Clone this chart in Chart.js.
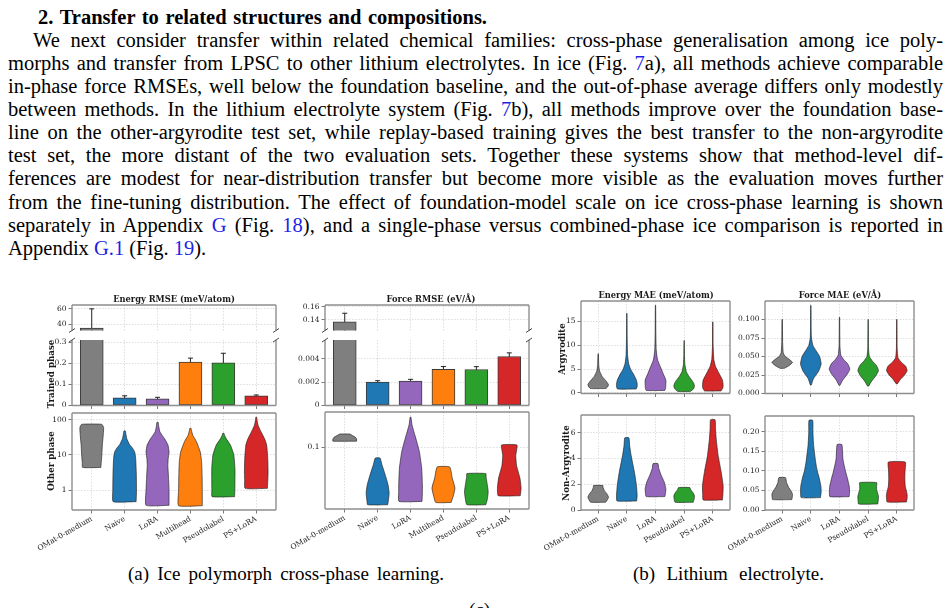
<!DOCTYPE html>
<html>
<head>
<meta charset="utf-8">
<script src="https://cdn.jsdelivr.net/npm/chart.js@4.4.1/dist/chart.umd.min.js"></script>
<style>
  body { margin: 0; width: 952px; height: 608px; overflow: hidden; background: #fff; position: relative; }
  .fit { position: absolute; white-space: nowrap; font-family: 'Liberation Serif', serif; color: #000; }
  .body { font-size: 20.5px; line-height: 23px; }
  .cap { font-size: 19px; line-height: 22px; }
  .ref { color: #1f1fe6; }
  canvas { position: absolute; }
  .ttl, .ylab { position: absolute; font-family: 'DejaVu Serif', serif; font-weight: bold; color: #1a1a1a; white-space: nowrap; }
  .ttl { font-size: 8.3px; transform: translate(-50%, -50%); }
  .ylab { font-size: 8.7px; transform: translate(-50%, -50%) rotate(-90deg); }
</style>
</head>
<body>
<span class="fit body" style="left:38px;top:6px;font-weight:bold" data-w="449">2. Transfer to related structures and compositions.</span>
<span class="fit body" style="left:33px;top:29px" data-w="910">We next consider transfer within related chemical families: cross-phase generalisation among ice poly-</span>
<span class="fit body" style="left:8px;top:52px" data-w="935">morphs and transfer from LPSC to other lithium electrolytes. In ice (Fig. <span class="ref">7</span>a), all methods achieve comparable</span>
<span class="fit body" style="left:8px;top:75px" data-w="935">in-phase force RMSEs, well below the foundation baseline, and the out-of-phase average differs only modestly</span>
<span class="fit body" style="left:8px;top:98px" data-w="935">between methods. In the lithium electrolyte system (Fig. <span class="ref">7</span>b), all methods improve over the foundation base-</span>
<span class="fit body" style="left:8px;top:121px" data-w="935">line on the other-argyrodite test set, while replay-based training gives the best transfer to the non-argyrodite</span>
<span class="fit body" style="left:8px;top:144px" data-w="935">test set, the more distant of the two evaluation sets. Together these systems show that method-level dif-</span>
<span class="fit body" style="left:8px;top:167px" data-w="935">ferences are modest for near-distribution transfer but become more visible as the evaluation moves further</span>
<span class="fit body" style="left:8px;top:191px" data-w="935">from the fine-tuning distribution. The effect of foundation-model scale on ice cross-phase learning is shown</span>
<span class="fit body" style="left:8px;top:214px" data-w="935">separately in Appendix <span class="ref">G</span> (Fig. <span class="ref">18</span>), and a single-phase versus combined-phase ice comparison is reported in</span>
<span class="fit body" style="left:8px;top:237px">Appendix <span class="ref">G.1</span> (Fig. <span class="ref">19</span>).</span>

<canvas id="iceEnergyTop"></canvas>
<canvas id="iceEnergyBottom"></canvas>
<canvas id="iceEnergyViolin"></canvas>
<canvas id="iceForceTop"></canvas>
<canvas id="iceForceBottom"></canvas>
<canvas id="iceForceViolin"></canvas>
<canvas id="liEnergyArg"></canvas>
<canvas id="liForceArg"></canvas>
<canvas id="liEnergyNon"></canvas>
<canvas id="liForceNon"></canvas>

<div class="ttl" style="left:174px;top:299px">Energy RMSE (meV/atom)</div>
<div class="ttl" style="left:431px;top:299px">Force RMSE (eV/Å)</div>
<div class="ttl" style="left:656px;top:295px">Energy MAE (meV/atom)</div>
<div class="ttl" style="left:840px;top:295px">Force MAE (eV/Å)</div>
<div class="ylab" style="left:51px;top:374px">Trained phase</div>
<div class="ylab" style="left:51px;top:461px">Other phase</div>
<div class="ylab" style="left:562px;top:349px">Argyrodite</div>
<div class="ylab" style="left:566px;top:463px">Non-Argyrodite</div>

<span class="fit cap" style="left:128px;top:563px" data-w="316">(a) Ice polymorph cross-phase learning.</span>
<span class="fit cap" style="left:633px;top:563px" data-w="191">(b) Lithium electrolyte.</span>
<span class="fit cap" style="left:469px;top:599px">(c)</span>

<script>
// methods and colours
const iceMethods = ['OMat-0-medium', 'Naive', 'LoRA', 'Multihead', 'Pseudolabel', 'PS+LoRA'];
const liMethods = ['OMat-0-medium', 'Naive', 'LoRA', 'Pseudolabel', 'PS+LoRA'];
const iceColors = ['#7f7f7f', '#1f77b4', '#9467bd', '#ff7f0e', '#2ca02c', '#d62728'];
const liColors = ['#7f7f7f', '#1f77b4', '#9467bd', '#2ca02c', '#d62728'];

// ice, trained phase (bars + error bars)
const iceEnergyTrained = [35, 0.037, 0.032, 0.206, 0.203, 0.046];
const iceEnergyTrainedLo = [10, 0.026, 0.027, 0.188, 0.157, 0.039];
const iceEnergyTrainedHi = [60, 0.046, 0.039, 0.225, 0.248, 0.050];
const iceForceTrained = [0.1365, 0.00201, 0.00208, 0.00309, 0.00308, 0.00419];
const iceForceTrainedLo = [0.12, 0.00190, 0.00194, 0.00278, 0.00280, 0.00387];
const iceForceTrainedHi = [0.1499, 0.00212, 0.00224, 0.00333, 0.00332, 0.00450];

// tick values
const iceEnergyTopTicks = [40, 60];
const iceEnergyBottomTicks = [0, 0.1, 0.2, 0.3];
const iceForceTopTicks = [0.14, 0.16];
const iceForceBottomTicks = [0, 0.002, 0.004];
const iceEnergyOtherTicks = [1, 10, 100];
const iceForceOtherTicks = [0.1];
const liEnergyArgTicks = [0, 5, 10, 15];
const liForceArgTicks = [0, 0.025, 0.05, 0.075, 0.1];
const liEnergyNonTicks = [0, 2, 4, 6];
const liForceNonTicks = [0, 0.05, 0.1, 0.15, 0.2];

// violin profiles: [value, relative density] from bottom to top
const iceEnergyOther = [
  [[4.4, 0.77], [6, 0.8], [10, 0.85], [20, 0.9], [40, 0.98], [60, 1.0], [74, 0.85]],
  [[0.47, 0.97], [1, 1.0], [3.3, 0.98], [8, 0.93], [12, 0.85], [15, 0.7], [20, 0.4], [29, 0.18], [40, 0.1], [48, 0.06]],
  [[0.37, 0.97], [1, 0.97], [2.15, 0.93], [5, 0.87], [8, 0.9], [12, 0.97], [19, 0.88], [29, 0.59], [45, 0.2], [65, 0.1], [84, 0.05]],
  [[0.36, 1.0], [1, 1.0], [3, 0.98], [6.4, 0.94], [12, 0.83], [24, 0.5], [36, 0.2], [50, 0.08], [57, 0.05]],
  [[0.65, 0.95], [1, 0.97], [4, 0.98], [10, 0.88], [19, 0.6], [29, 0.24], [36, 0.1], [41, 0.05]],
  [[1.12, 0.94], [2, 0.98], [3.3, 1.0], [8, 0.97], [19, 0.88], [29, 0.7], [45, 0.41], [70, 0.15], [100, 0.06], [117, 0.04]]
];
const iceForceOther = [
  [[0.113, 1.0], [0.118, 1.0], [0.122, 0.9], [0.126, 0.65], [0.130, 0.43]],
  [[0.0326, 0.85], [0.035, 0.9], [0.041, 0.97], [0.048, 0.88], [0.055, 0.72], [0.0625, 0.55], [0.072, 0.35], [0.0813, 0.2]],
  [[0.0348, 0.97], [0.042, 1.0], [0.0482, 1.0], [0.0668, 0.94], [0.0925, 0.74], [0.12, 0.44], [0.156, 0.12], [0.181, 0.03]],
  [[0.0341, 0.65], [0.0383, 0.82], [0.0452, 0.97], [0.055, 0.74], [0.0682, 0.53]],
  [[0.0326, 0.8], [0.036, 0.92], [0.042, 1.0], [0.05, 0.9], [0.056, 0.82], [0.060, 0.8]],
  [[0.0389, 0.93], [0.045, 1.0], [0.055, 0.9], [0.07, 0.62], [0.085, 0.55], [0.095, 0.62], [0.105, 0.65]]
];
const liEnergyArgyrodite = [
  [[0.9, 0.75], [1.2, 0.9], [1.7, 1.0], [2.4, 0.8], [3.4, 0.4], [4.6, 0.13], [6, 0.05], [8.2, 0.02]],
  [[0.8, 0.9], [1.3, 1.0], [1.9, 1.0], [2.7, 0.92], [4.1, 0.6], [5, 0.35], [6.2, 0.17], [8, 0.07], [12, 0.03], [16.7, 0.015]],
  [[0.5, 0.9], [1, 0.98], [1.7, 1.0], [2.7, 1.0], [4.1, 0.73], [5.5, 0.47], [6.9, 0.2], [9, 0.07], [13, 0.03], [18.4, 0.015]],
  [[0.3, 0.6], [0.8, 0.9], [1.4, 1.0], [2, 0.93], [2.7, 0.73], [3.5, 0.45], [4.5, 0.2], [6, 0.07], [8, 0.03], [11, 0.015]],
  [[0.4, 0.8], [1, 0.97], [1.7, 1.0], [2.7, 0.93], [4.1, 0.6], [5.5, 0.27], [7, 0.1], [10, 0.03], [14.9, 0.015]]
];
const liForceArgyrodite = [
  [[0.034, 0.2], [0.037, 0.6], [0.042, 1.0], [0.046, 0.7], [0.05, 0.3], [0.055, 0.1], [0.07, 0.04], [0.1, 0.02]],
  [[0.0116, 0.05], [0.02, 0.25], [0.03, 0.75], [0.04, 1.0], [0.05, 0.85], [0.058, 0.5], [0.065, 0.2], [0.075, 0.06], [0.09, 0.03], [0.119, 0.015]],
  [[0.011, 0.05], [0.018, 0.3], [0.026, 0.75], [0.033, 1.0], [0.04, 0.8], [0.046, 0.4], [0.052, 0.12], [0.065, 0.04], [0.103, 0.015]],
  [[0.01, 0.05], [0.017, 0.35], [0.024, 0.75], [0.031, 1.0], [0.038, 0.8], [0.044, 0.4], [0.05, 0.12], [0.06, 0.04], [0.1, 0.015]],
  [[0.013, 0.05], [0.019, 0.35], [0.025, 0.75], [0.031, 1.0], [0.037, 0.85], [0.042, 0.45], [0.048, 0.12], [0.06, 0.04], [0.1, 0.015]]
];
const liEnergyNonArgyrodite = [
  [[0.6, 0.72], [0.8, 0.9], [1.0, 1.0], [1.25, 0.85], [1.5, 0.6], [1.75, 0.47], [1.9, 0.45]],
  [[0.7, 0.95], [1.1, 1.0], [1.9, 0.93], [3, 0.72], [4.2, 0.42], [5, 0.27], [5.6, 0.2]],
  [[1.04, 0.9], [1.3, 0.97], [1.66, 1.0], [2.2, 0.83], [2.7, 0.55], [3.2, 0.32], [3.6, 0.23]],
  [[0.6, 0.88], [0.85, 0.97], [1.1, 1.0], [1.35, 0.85], [1.55, 0.65], [1.74, 0.55]],
  [[0.78, 0.93], [1.2, 0.98], [1.9, 1.0], [3, 0.8], [4.2, 0.52], [5.5, 0.33], [6.3, 0.26], [7.0, 0.22]]
];
const liForceNonArgyrodite = [
  [[0.0265, 0.93], [0.033, 0.98], [0.04, 1.0], [0.048, 0.88], [0.058, 0.62], [0.07, 0.42], [0.0826, 0.32]],
  [[0.0316, 0.93], [0.045, 1.0], [0.06, 0.98], [0.08, 0.83], [0.1, 0.62], [0.122, 0.47], [0.165, 0.27], [0.2, 0.2], [0.229, 0.18]],
  [[0.034, 0.93], [0.045, 0.98], [0.06, 0.95], [0.08, 0.78], [0.097, 0.6], [0.13, 0.33], [0.167, 0.23]],
  [[0.0153, 0.93], [0.025, 0.98], [0.035, 1.0], [0.045, 0.9], [0.052, 0.82], [0.06, 0.82], [0.07, 0.82]],
  [[0.0204, 0.93], [0.03, 1.0], [0.04, 1.0], [0.05, 0.92], [0.06, 0.82], [0.08, 0.78], [0.1, 0.8], [0.1224, 0.82]]
];

// stretch each text line to its printed width
document.querySelectorAll('.fit[data-w]').forEach(el => {
  const target = +el.dataset.w;
  const natural = el.getBoundingClientRect().width;
  const spaces = (el.textContent.match(/ /g) || []).length;
  if (spaces) el.style.wordSpacing = ((target - natural) / spaces) + 'px';
});

const AX = 50, PT = 8, PR = 8;
const VIOLIN_HALF = 0.36;
const GRID = 'rgba(0,0,0,0.13)';
const tickFont = {family: 'DejaVu Serif', size: 7.5};

Chart.register({
  id: 'frame',
  afterDraw(chart, args, opts) {
    const {left, right, top, bottom} = chart.chartArea;
    const ctx = chart.ctx;
    const sides = opts.sides || 'tlrb';
    ctx.save();
    ctx.strokeStyle = '#8f8f8f';
    ctx.lineWidth = 1.4;
    ctx.beginPath();
    if (sides.includes('t')) { ctx.moveTo(left, top); ctx.lineTo(right, top); }
    if (sides.includes('b')) { ctx.moveTo(left, bottom); ctx.lineTo(right, bottom); }
    if (sides.includes('l')) { ctx.moveTo(left, top); ctx.lineTo(left, bottom); }
    if (sides.includes('r')) { ctx.moveTo(right, top); ctx.lineTo(right, bottom); }
    ctx.stroke();
    if (opts.brk) {
      const y = opts.brk === 'bottom' ? bottom : top;
      ctx.strokeStyle = '#333';
      ctx.lineWidth = 0.9;
      ctx.beginPath();
      [left, right].forEach(x => { ctx.moveTo(x - 3, y + 2); ctx.lineTo(x + 3, y - 2); });
      ctx.stroke();
    }
    ctx.restore();
  }
});

function yAxis(type, min, max, ticks, fmt) {
  return {
    type, min, max,
    afterFit: s => { s.width = AX; },
    afterBuildTicks: s => { s.ticks = ticks.map(v => ({value: v})); },
    ticks: {font: tickFont, color: '#222', padding: 2, callback: v => fmt(v)},
    grid: {color: GRID, tickColor: '#555', tickLength: 3.5, tickWidth: 0.8},
    border: {display: false, dash: [1.5, 1.5]}
  };
}

function xAxis(names, xh, showLabels) {
  return {
    type: 'linear', min: -0.6, max: names.length - 0.4, offset: false,
    afterFit: s => { s.height = xh; },
    afterBuildTicks: s => { s.ticks = names.map((_, i) => ({value: i})); },
    ticks: {display: showLabels, autoSkip: false, minRotation: 30, maxRotation: 30,
            font: tickFont, color: '#222', padding: 1, callback: v => names[v]},
    grid: {offset: false, color: GRID, drawTicks: xh > 3, tickLength: 3.5, tickColor: '#555', tickWidth: 0.8},
    border: {display: false, dash: [1.5, 1.5]}
  };
}

function makeChart(id, g, cfg, frame) {
  const c = document.getElementById(id);
  const w = g.W + AX + PR, h = g.H + PT + g.xh;
  c.width = w; c.height = h;
  c.style.left = (g.L - AX) + 'px'; c.style.top = (g.T - PT) + 'px';
  c.style.width = w + 'px'; c.style.height = h + 'px';
  cfg.options.responsive = false;
  cfg.options.animation = false;
  cfg.options.events = [];
  cfg.options.layout = {padding: {left: 0, top: PT, right: PR, bottom: 0}};
  cfg.options.plugins = {legend: {display: false}, tooltip: {enabled: false}, frame};
  return new Chart(c, cfg);
}

function barChart(id, g, vals, lo, hi, yCfg, frame) {
  const datasets = [{
    type: 'bar',
    data: vals.map((v, i) => ({x: i, y: v})),
    backgroundColor: iceColors, borderColor: '#3a3a3a', borderWidth: 1,
    borderSkipped: false, barThickness: 23
  }];
  vals.forEach((_, i) => datasets.push({
    type: 'line',
    data: [{x: i, y: lo[i]}, {x: i, y: hi[i]}],
    borderColor: '#222', borderWidth: 1,
    pointStyle: 'line', pointRadius: 2.5, pointBorderColor: '#222', pointBorderWidth: 1
  }));
  return makeChart(id, g, {
    type: 'bar',
    data: {datasets},
    options: {scales: {x: xAxis(iceMethods, g.xh, false), y: yCfg}}
  }, frame);
}

function violinChart(id, g, profiles, names, colors, yCfg, showLabels) {
  const datasets = profiles.map((prof, i) => {
    const right = prof.map(p => ({x: i + p[1] * VIOLIN_HALF, y: p[0]}));
    const left = prof.map(p => ({x: i - p[1] * VIOLIN_HALF, y: p[0]})).reverse();
    return {
      data: right.concat(left, [right[0]]),
      showLine: true, fill: 'shape',
      backgroundColor: colors[i], borderColor: 'rgba(30,30,30,0.9)', borderWidth: 0.7,
      pointRadius: 0, tension: 0.15
    };
  });
  return makeChart(id, g, {
    type: 'scatter',
    data: {datasets},
    options: {scales: {x: xAxis(names, g.xh, showLabels), y: yCfg}}
  }, {sides: 'tlrb'});
}

const plain = v => String(v);

barChart('iceEnergyTop', {L: 72, T: 305, W: 204, H: 29, xh: 3},
  iceEnergyTrained, iceEnergyTrainedLo, iceEnergyTrainedHi,
  yAxis('linear', 31.7, 65, iceEnergyTopTicks, plain), {sides: 'tlr', brk: 'bottom'});
barChart('iceEnergyBottom', {L: 72, T: 340, W: 204, H: 67, xh: 5},
  iceEnergyTrained, iceEnergyTrainedLo, iceEnergyTrainedHi,
  yAxis('linear', 0, 0.311, iceEnergyBottomTicks, plain), {sides: 'blr', brk: 'top'});
barChart('iceForceTop', {L: 325, T: 305, W: 204, H: 29, xh: 3},
  iceForceTrained, iceForceTrainedLo, iceForceTrainedHi,
  yAxis('linear', 0.1232, 0.1627, iceForceTopTicks, v => v.toFixed(2)), {sides: 'tlr', brk: 'bottom'});
barChart('iceForceBottom', {L: 325, T: 340, W: 204, H: 67, xh: 5},
  iceForceTrained, iceForceTrainedLo, iceForceTrainedHi,
  yAxis('linear', 0, 0.0056, iceForceBottomTicks, v => v === 0 ? '0' : v.toFixed(3)), {sides: 'blr', brk: 'top'});

violinChart('iceEnergyViolin', {L: 72, T: 413, W: 204, H: 97, xh: 48},
  iceEnergyOther, iceMethods, iceColors,
  yAxis('logarithmic', 0.272, 155, iceEnergyOtherTicks, plain), true);
violinChart('iceForceViolin', {L: 325, T: 412, W: 204, H: 97, xh: 48},
  iceForceOther, iceMethods, iceColors,
  yAxis('logarithmic', 0.03, 0.2, iceForceOtherTicks, plain), true);

violinChart('liEnergyArg', {L: 581, T: 301, W: 149, H: 94, xh: 5},
  liEnergyArgyrodite, liMethods, liColors,
  yAxis('linear', -0.14, 19.3, liEnergyArgTicks, plain), false);
violinChart('liForceArg', {L: 765, T: 301, W: 149, H: 94, xh: 5},
  liForceArgyrodite, liMethods, liColors,
  yAxis('linear', 0, 0.125, liForceArgTicks, v => v.toFixed(3)), false);
violinChart('liEnergyNon', {L: 581, T: 415, W: 149, H: 95, xh: 45},
  liEnergyNonArgyrodite, liMethods, liColors,
  yAxis('linear', 0, 7.37, liEnergyNonTicks, plain), true);
violinChart('liForceNon', {L: 765, T: 416, W: 149, H: 94, xh: 45},
  liForceNonArgyrodite, liMethods, liColors,
  yAxis('linear', 0, 0.24, liForceNonTicks, v => v.toFixed(2)), true);
</script>
</body>
</html>
